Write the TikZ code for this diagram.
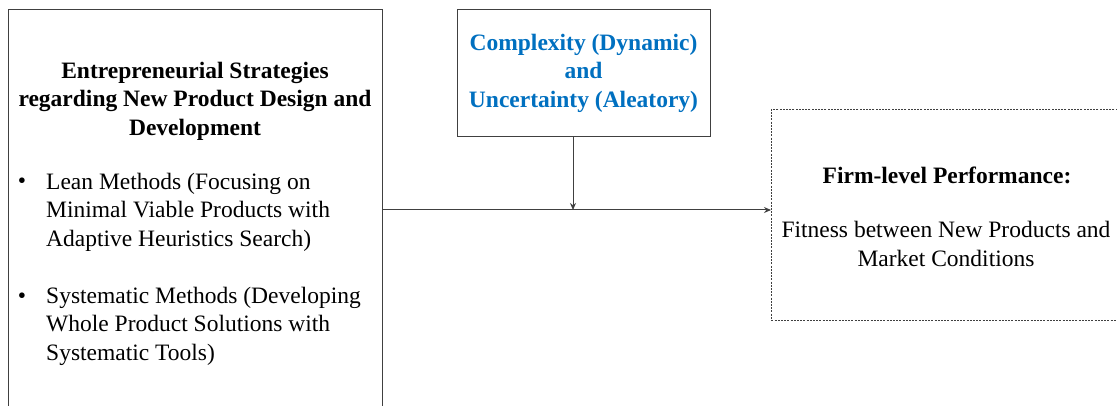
\documentclass[tikz,border=0pt]{standalone}
\usepackage{fontspec}
\setmainfont{Liberation Serif}
\usetikzlibrary{arrows.meta}
\definecolor{ublue}{HTML}{0070C0}
\definecolor{lc}{HTML}{404040}
\begin{document}
\begin{tikzpicture}[x=1pt,y=-1pt,
  box/.style={draw=lc, line width=1pt, inner sep=0pt, anchor=north west},
  dbox/.style={box, dash pattern=on 2pt off 1.2pt, line width=0.8pt},
  txt/.style={font=\fontsize{23.5}{28.5}\selectfont, inner sep=0pt},
  btxt/.style={txt, font=\fontsize{23.5}{28.5}\selectfont\bfseries},
  arr/.style={draw=lc, line width=1pt, -{Stealth[length=7pt,width=6pt]}}]
\useasboundingbox (0,0) rectangle (1117,406);
\clip (0,0) rectangle (1117,406);
\fill[white] (0,0) rectangle (1117,406);
% boxes
\node[box, minimum width=374pt, minimum height=420pt] (strat) at (8,9) {};
\node[box, minimum width=253pt, minimum height=127pt] (unc) at (457,9) {};
\node[dbox, minimum width=370pt, minimum height=211pt] (perf) at (771,109) {};
% texts
\node[btxt, align=center] (stratT) at (195,101) {Entrepreneurial Strategies\\regarding New Product Design and\\Development};
\node[txt] (b1) at (22,183) {•};
\node[txt, anchor=west, align=left] (lean) at (46,212) {Lean Methods (Focusing on\\Minimal Viable Products with\\Adaptive Heuristics Search)};
\node[txt] (b2) at (22,298) {•};
\node[txt, anchor=west, align=left] (sys) at (46,326) {Systematic Methods (Developing\\Whole Product Solutions with\\Systematic Tools)};
\node[btxt, align=center, text=ublue] (uncT) at (583.5,73) {Complexity (Dynamic)\\and\\Uncertainty (Aleatory)};
\node[btxt] (perfT) at (947,175) {Firm-level Performance:};
\node[txt, align=center] (perfB) at (946,244) {Fitness between New Products and\\Market Conditions};
% connectors
\coordinate (m) at (573,210);
\draw[arr] (strat.east |- m) -- (perf.west |- m);
\draw[arr] (m |- unc.south) -- (m);
\end{tikzpicture}
\end{document}
